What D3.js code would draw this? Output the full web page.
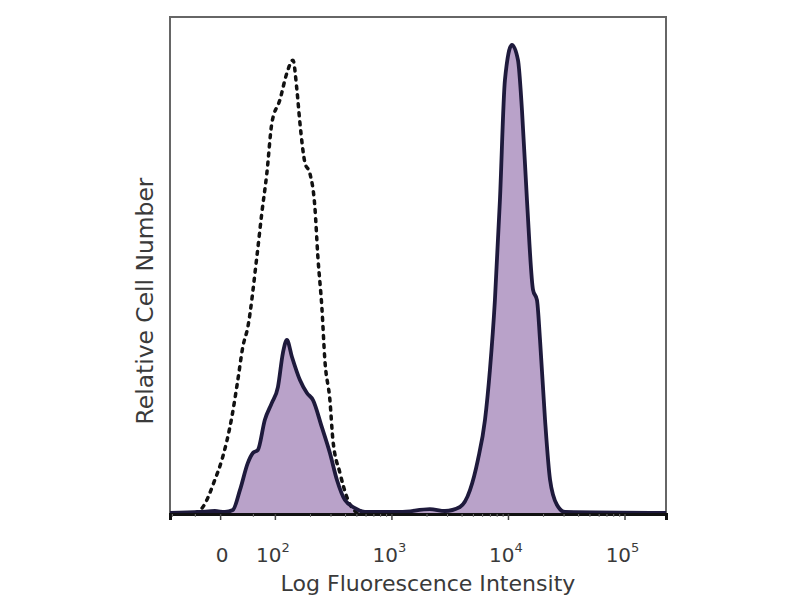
<!DOCTYPE html>
<html><head><meta charset="utf-8">
<script src="https://cdn.jsdelivr.net/npm/d3@7"></script>
<style>body{margin:0;background:#fff}svg{display:block}</style>
</head><body>
<svg id="c" width="800" height="600"></svg>
<script>
// x values are in decades of fluorescence (log10 of intensity on a biexponential display)
const solidX = [1.10,1.356,1.485,1.571,1.639,1.700,1.768,1.811,1.854,1.914,1.974,2.026,2.069,2.103,2.146,2.215,2.275,2.326,2.403,2.472,2.532,2.601,2.687,2.773,3.073,3.330,3.459,3.588,3.674,3.742,3.803,3.845,3.888,3.931,3.974,4.034,4.086,4.120,4.163,4.215,4.249,4.275,4.318,4.361,4.421,4.489,5.356];
const solidY = [0,0.2,0.4,0.2,0.6,4.6,10.1,12.1,12.7,18.8,22.2,25.4,32.3,34.9,31.5,26.8,24.2,22.8,17.3,12.1,6.7,2.6,1.0,0.2,0.2,0.8,0.4,1.2,4.6,10.7,18.8,28.8,42.9,63.1,87.3,94.4,91.3,81.3,63.1,45.0,42.9,34.9,18.8,6.7,1.6,0.2,0];
const dashedX = [1.313,1.382,1.485,1.545,1.631,1.682,1.725,1.768,1.845,1.888,1.931,1.974,2.043,2.103,2.155,2.189,2.215,2.258,2.300,2.343,2.369,2.403,2.429,2.472,2.498,2.558,2.627,2.704];
const dashedY = [0,1.2,6.7,10.7,19.4,26.8,33.5,37.5,51.6,60.5,68.5,78.6,83.3,88.7,91.3,85.3,78.6,70.6,68.5,61.7,51.6,41.5,30.8,22.8,14.7,8.1,2.6,0];
const tickDecades = [1.53, 2, 3, 4, 5];
const tickBase = ["0", "10", "10", "10", "10"];
const tickExp = ["", "2", "3", "4", "5"];
const minorDecades = [1.116, 1.313, 1.811].concat(
  [2,3,4].flatMap(n => [2,3,4,5,6,7,8,9].map(k => Math.log10(k * Math.pow(10, n)))));
const xTitle = "Log Fluorescence Intensity";
const yTitle = "Relative Cell Number";

const svg = d3.select("#c");
const L = 170, R = 666, T = 17, B = 513;
const x = d3.scaleLinear().domain([1.10, 5.356]).range([L, R]);
const y = d3.scaleLinear().domain([0, 100]).range([B, T]);

const solid = solidX.map((v, i) => [v, solidY[i]]);
const dashed = dashedX.map((v, i) => [v, dashedY[i]]);

// frame
svg.append("rect").attr("x", L).attr("y", T).attr("width", R - L).attr("height", B - T)
  .attr("fill", "#fff").attr("stroke", "#666").attr("stroke-width", 2);

const area = d3.area().x(d => x(d[0])).y0(y(0)).y1(d => y(d[1])).curve(d3.curveMonotoneX);
const line = d3.line().x(d => x(d[0])).y(d => y(d[1])).curve(d3.curveMonotoneX);

svg.append("path").datum(solid).attr("d", area).attr("fill", "#b9a2c9");
svg.append("path").datum(dashed).attr("d", line).attr("fill", "none")
  .attr("stroke", "#111").attr("stroke-width", 3.5).attr("stroke-dasharray", "3,6")
  .attr("stroke-linecap", "round");
svg.append("path").datum(solid).attr("d", line).attr("fill", "none")
  .attr("stroke", "#1e1a3c").attr("stroke-width", 3.8).attr("stroke-linejoin", "round");

// x axis
const axis = svg.append("g").attr("transform", `translate(0,${B + 1})`);
axis.call(d3.axisBottom(x).tickValues(tickDecades).tickSize(6).tickFormat(""));
axis.select(".domain").attr("stroke", "#111").attr("stroke-width", 3);
axis.selectAll(".tick line").attr("stroke", "#444").attr("stroke-width", 1.5);
const minorAxis = svg.append("g").attr("transform", `translate(0,${B + 1})`);
minorAxis.call(d3.axisBottom(x).tickValues(minorDecades).tickSize(3).tickFormat(""));
minorAxis.select(".domain").remove();
minorAxis.selectAll(".tick line").attr("stroke", "#777").attr("stroke-width", 1);

const lab = svg.append("g").attr("font-family", "DejaVu Sans, sans-serif").attr("fill", "#3a3a3a");
tickDecades.forEach((d, i) => {
  const t = lab.append("text").attr("x", x(d) + (tickExp[i] ? -2 : 2)).attr("y", 562)
    .attr("text-anchor", "middle").attr("font-size", 20);
  t.append("tspan").text(tickBase[i]);
  if (tickExp[i]) t.append("tspan").attr("dy", -10).attr("font-size", 13).text(tickExp[i]);
});
function fit(sel, target) {
  const fs = +sel.attr("font-size");
  const w = sel.node().getComputedTextLength();
  if (w > 0) sel.attr("font-size", fs * target / w);
}
const xt = lab.append("text").attr("x", 428).attr("y", 591).attr("text-anchor", "middle")
  .attr("font-size", 19).text(xTitle);
fit(xt, 295);
const yt = lab.append("text").attr("transform", "translate(153,301) rotate(-90)")
  .attr("text-anchor", "middle").attr("font-size", 19).text(yTitle);
fit(yt, 247);
</script>
</body></html>
